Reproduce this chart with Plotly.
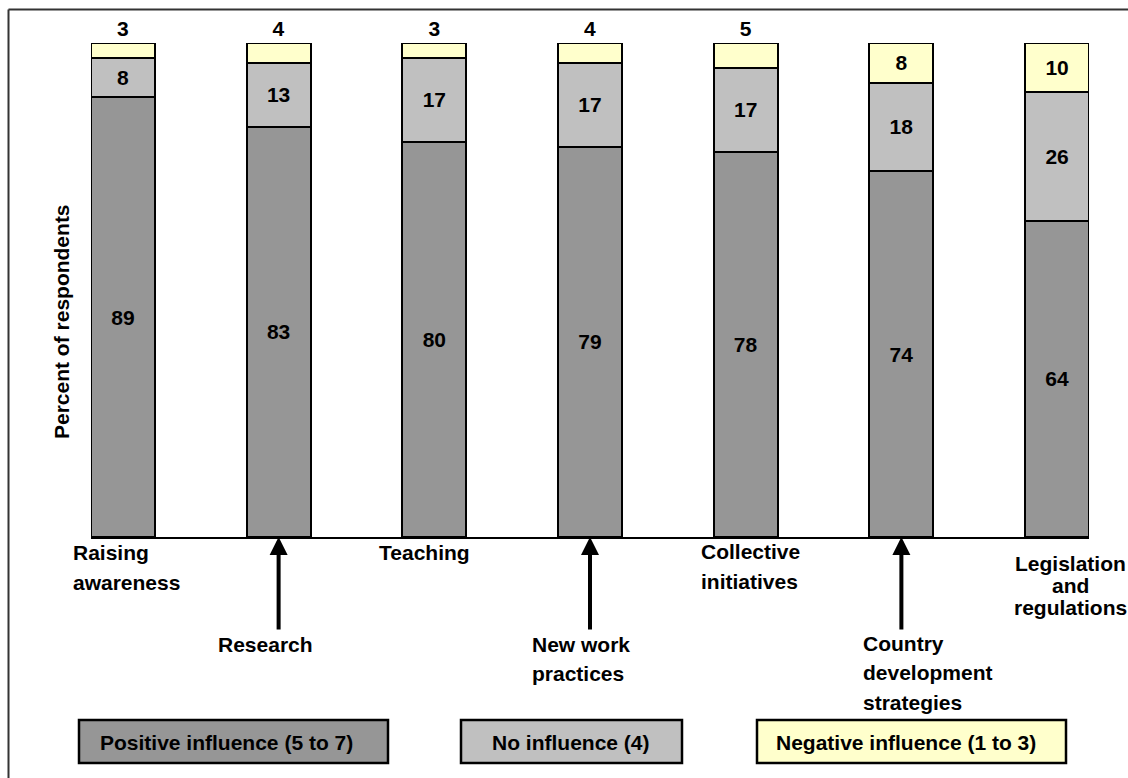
import plotly.graph_objects as go

# Survey results: share of respondents rating each channel's influence
category_lines = [
    ["Raising", "awareness"],
    ["Research"],
    ["Teaching"],
    ["New work", "practices"],
    ["Collective", "initiatives"],
    ["Country", "development", "strategies"],
    ["Legislation", "and", "regulations"],
]
series_names = ["Positive influence (5 to 7)", "No influence (4)", "Negative influence (1 to 3)"]
positive = [89, 83, 80, 79, 78, 74, 64]
no_influence = [8, 13, 17, 17, 17, 18, 26]
negative = [3, 4, 3, 4, 5, 8, 10]
y_title = "Percent of respondents"

colors = ["#969696", "#C0C0C0", "#FFFFCC"]
FONT = "Liberation Sans, Arial, sans-serif"

W, H = 1128, 778
PL, PT, PW, PH = 91, 43, 998, 494


def px_x(px):
    return (px - PL) / PW


def px_y(py):
    return (PT + PH - py) / PH


xs = list(range(len(category_lines)))
fig = go.Figure()

for name, vals, col in zip(series_names, [positive, no_influence, negative], colors):
    is_top = vals is negative
    fig.add_trace(go.Bar(
        x=xs, y=vals, name=name, width=0.41,
        marker=dict(color=col, line=dict(color="black", width=2)),
        text=[str(v) for v in vals],
        textposition=[("outside" if v < 6 else "inside") for v in vals] if is_top else "inside",
        insidetextanchor="middle",
        textangle=0,
        constraintext="none",
        textfont=dict(family=FONT, size=21, color="black", weight="bold"),
        cliponaxis=False,
        showlegend=False,
        hoverinfo="skip",
    ))

annotations = []

# Category labels: (left edge px / centre px, first-line centre px, line spacing, anchor)
label_layout = [
    (71, 552, 30, "left"),
    (216, 644, 30, "left"),
    (377, 552, 30, "left"),
    (530, 644, 29, "left"),
    (699, 551, 30, "left"),
    (861, 643, 29.5, "left"),
    (1070, 563, 22, "center"),
]
for lines, (lx, ly, sp, anchor) in zip(category_lines, label_layout):
    for k, line in enumerate(lines):
        annotations.append(dict(
            text=line, xref="paper", yref="paper",
            x=px_x(lx), y=px_y(ly + k * sp),
            xanchor=anchor, yanchor="middle", showarrow=False,
            font=dict(family=FONT, size=21, color="black", weight="bold"),
        ))

# Arrows pointing at the bars whose labels sit in the lower row
for i in xs:
    if label_layout[i][1] > 600:
        annotations.append(dict(
            text="", xref="x", yref="y", x=i, y=0,
            ax=0, ay=94, axref="pixel", ayref="pixel",
            showarrow=True, arrowhead=2, arrowsize=0.9, arrowwidth=4,
            arrowcolor="black",
        ))

# Axis title
annotations.append(dict(
    text=y_title, xref="paper", yref="paper",
    x=px_x(61), y=px_y(322), textangle=-90,
    xanchor="center", yanchor="middle", showarrow=False,
    font=dict(family=FONT, size=21, color="black", weight="bold"),
))

# Outer frame (left and top edges) and legend boxes
frame = dict(color="#333333", width=2)
shapes = [
    dict(type="line", xref="paper", yref="paper",
         x0=px_x(8.5), x1=px_x(8.5), y0=px_y(H), y1=px_y(9.5), line=frame),
    dict(type="line", xref="paper", yref="paper",
         x0=px_x(8.5), x1=px_x(W), y0=px_y(9.5), y1=px_y(9.5), line=frame),
]
legend_boxes = [(79, 388, 98), (461, 682, 490), (757, 1066, 774)]
for name, col, (bx0, bx1, tx) in zip(series_names, colors, legend_boxes):
    shapes.append(dict(
        type="rect", xref="paper", yref="paper",
        x0=px_x(bx0), x1=px_x(bx1), y0=px_y(763), y1=px_y(720),
        line=dict(color="black", width=2.5), fillcolor=col,
    ))
    annotations.append(dict(
        text=name, xref="paper", yref="paper",
        x=px_x(tx), y=px_y(742), xanchor="left", yanchor="middle",
        showarrow=False,
        font=dict(family=FONT, size=21, color="black", weight="bold"),
    ))

fig.update_layout(
    barmode="stack",
    width=W, height=H,
    margin=dict(l=PL, r=W - PL - PW, t=PT, b=H - PT - PH, autoexpand=False),
    paper_bgcolor="white", plot_bgcolor="white",
    xaxis=dict(range=[-0.205, 6.205], showticklabels=False, ticks="",
               showgrid=False, zeroline=False, showline=True,
               linecolor="black", linewidth=2),
    yaxis=dict(range=[0, 100], showticklabels=False, ticks="",
               showgrid=False, zeroline=False, showline=False),
    annotations=annotations,
    shapes=shapes,
    uniformtext=dict(mode=False),
)

fig.write_html("out.html")
